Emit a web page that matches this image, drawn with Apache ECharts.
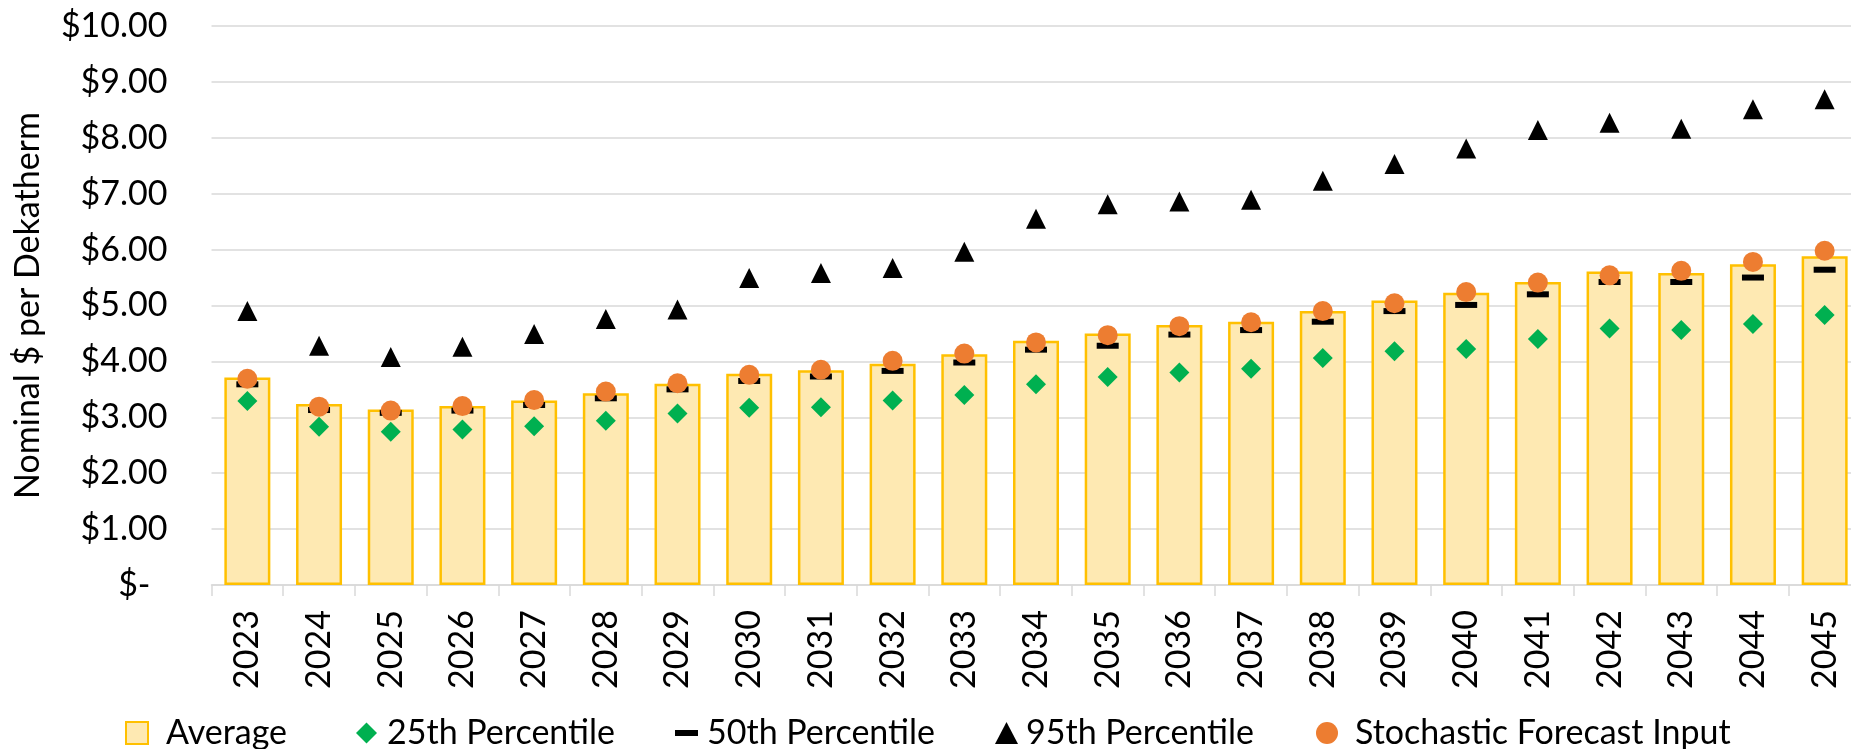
<!DOCTYPE html>
<html><head><meta charset="utf-8">
<script src="https://cdn.jsdelivr.net/npm/echarts@6/dist/echarts.min.js"></script>
<style>html,body{margin:0;padding:0;background:#fff}#c{width:1851px;height:749px}</style>
</head><body><div id="c"></div>
<script>
// ---- data ----
const years = ['2023','2024','2025','2026','2027','2028','2029','2030','2031','2032','2033','2034','2035','2036','2037','2038','2039','2040','2041','2042','2043','2044','2045'];
const average = [3.71,3.24,3.14,3.20,3.30,3.43,3.60,3.78,3.84,3.96,4.13,4.37,4.50,4.65,4.71,4.90,5.09,5.23,5.42,5.61,5.58,5.74,5.88];
const p25 = [3.29,2.83,2.74,2.78,2.84,2.94,3.07,3.17,3.18,3.30,3.40,3.59,3.72,3.80,3.87,4.06,4.18,4.22,4.40,4.59,4.56,4.67,4.83];
const p50 = [3.59,3.13,3.08,3.12,3.22,3.34,3.50,3.65,3.73,3.83,3.98,4.21,4.28,4.48,4.56,4.71,4.90,5.01,5.20,5.42,5.42,5.50,5.64];
const p95 = [4.90,4.28,4.08,4.26,4.49,4.76,4.93,5.49,5.58,5.67,5.96,6.55,6.81,6.86,6.89,7.23,7.53,7.81,8.14,8.27,8.16,8.51,8.69];
const stochastic = [3.69,3.19,3.12,3.20,3.31,3.46,3.61,3.76,3.85,4.01,4.14,4.34,4.47,4.63,4.70,4.90,5.04,5.24,5.41,5.54,5.62,5.78,5.98];
const yTicks = [0,1,2,3,4,5,6,7,8,9,10];
const names = ['Average','25th Percentile','50th Percentile','95th Percentile','Stochastic Forecast Input'];

const FONT = 'Lato';
const FS = 34;
const GRID = '#D9D9D9';
const chart = echarts.init(document.getElementById('c'), null, {renderer:'canvas'});

function lg(name, left, w, h, pad, icon){
  const o = {data:[name], left:left, top:716, itemWidth:w, itemHeight:h, padding:0, selectedMode:false,
    textStyle:{fontFamily:FONT, fontSize:FS, color:'#000', padding:[0,0,0,pad]}};
  if (icon) o.icon = icon;
  return o;
}

chart.setOption({
  animation:false,
  backgroundColor:'#fff',
  grid:{left:211.5, top:26, width:1649, height:559, containLabel:false, outerBoundsMode:'none'},
  legend:[
    lg(names[0],125,22,22,13,'rect'),
    lg(names[1],356,21,21,5),
    lg(names[2],675,23,6,4),
    lg(names[3],995,23,22,3),
    lg(names[4],1316,22,22,12)
  ],
  xAxis:{type:'category', data:years,
    axisLine:{lineStyle:{color:GRID,width:1.5}},
    axisTick:{show:true,length:11,lineStyle:{color:GRID,width:1.5}},
    axisLabel:{interval:0, rotate:90, margin:25, fontFamily:FONT, fontSize:FS, color:'#000'}},
  yAxis:{type:'value', min:yTicks[0], max:yTicks[yTicks.length-1], interval:1,
    name:'Nominal $ per Dekatherm', nameLocation:'middle', nameGap:166,
    nameTextStyle:{fontFamily:FONT, fontSize:FS, color:'#000'},
    axisLine:{show:false}, axisTick:{show:false},
    splitLine:{lineStyle:{color:GRID,width:1.5}},
    axisLabel:{margin:44, fontFamily:FONT, fontSize:FS, color:'#000',
      formatter:v=> v===0 ? '{d|$-}' : '$'+v.toFixed(2),
      rich:{d:{fontFamily:FONT,fontSize:FS,color:'#000',padding:[0,17,0,0]}}}},
  series:[
    {name:names[0], type:'bar', data:average, barWidth:46,
      itemStyle:{color:'#FEE9B2', borderColor:'#FFC000', borderWidth:2.5}},
    {name:names[1], type:'scatter', data:p25, symbol:'diamond', symbolSize:[20,20],
      itemStyle:{color:'#00B050', opacity:1}},
    {name:names[2], type:'scatter', data:p50, symbol:'rect', symbolSize:[22,6],
      itemStyle:{color:'#000', opacity:1}},
    {name:names[3], type:'scatter', data:p95, symbol:'triangle', symbolSize:[20,20],
      itemStyle:{color:'#000', opacity:1}},
    {name:names[4], type:'scatter', data:stochastic, symbol:'circle', symbolSize:20,
      itemStyle:{color:'#ED7D31', opacity:1}}
  ]
});
</script></body></html>
